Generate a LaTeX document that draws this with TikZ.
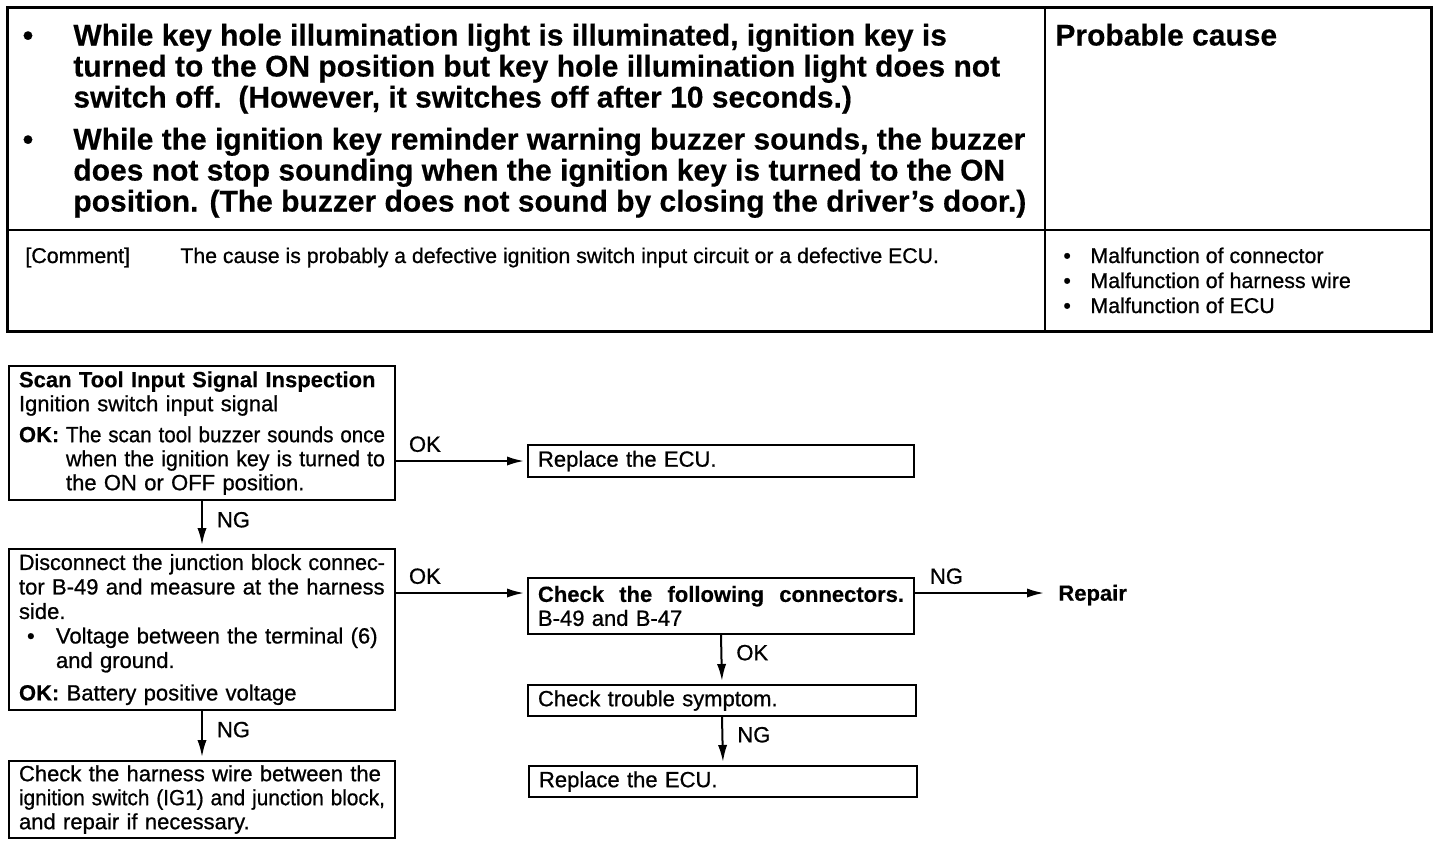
\documentclass[tikz,border=0pt]{standalone}
\usepackage{fontspec}
\usepackage{graphicx}
\setmainfont{Liberation Sans}[UprightFeatures={FakeBold=0.8}, BoldFeatures={FakeBold=0.4}]
\usetikzlibrary{arrows.meta}
\newlength{\okw}
\setlength{\okw}{23.5pt}
\newlength{\blw}
\setlength{\blw}{18.5pt}
\newlength{\fitw}
\newsavebox{\fitbox}
\newcommand{\fitto}[2]{\setlength{\fitw}{#1}\sbox{\fitbox}{#2}%
    \ifdim\wd\fitbox>\fitw\resizebox{\fitw}{\height}{\usebox{\fitbox}}\else\makebox[\fitw][s]{#2}\fi}
\newcommand{\fl}[1]{\fitto{\linewidth}{#1}}
\newcommand{\fli}[2]{\hspace*{#1}\fitto{\dimexpr\linewidth-#1\relax}{#2}}
\begin{document}
\begin{tikzpicture}[x=0.5pt, y=-0.5pt,
    box/.style={draw, line width=1pt, anchor=north west, inner xsep=5pt, inner ysep=0pt,
        text width=183pt, align=left, font=\fontsize{11}{12}\selectfont},
    flow/.style={-{Latex[length=8.5pt,width=4.6pt]}, line width=1pt, shorten >=1.5pt},
    lbl/.style={font=\fontsize{11}{12}\selectfont, inner sep=1pt},
    head/.style={anchor=base west, inner sep=0pt, align=left, font=\fontsize{15}{15.5}\selectfont\bfseries},
    small/.style={anchor=base west, inner sep=0pt, align=left, font=\fontsize{10.7}{12.5}\selectfont}]
    \path[use as bounding box, fill=white] (0,0) rectangle (1440,848);

    \draw[line width=1.5pt] (7,7) rectangle (1431,331);
    \draw[line width=1pt] (7,230) -- (1431,230) (1045,7) -- (1045,331);

    \node[head, anchor=base] (bul1) at (28,45.5) {\textbullet};
    \node[head] (sym1) at (73,107.5) {While key hole illumination light is illuminated, ignition key is\\
        turned to the ON position but key hole illumination light does not\\
        switch off.\ \ (However, it switches off after 10 seconds.)};
    \node[head, anchor=base] (bul2) at (28,149.5) {\textbullet};
    \node[head] (sym2) at (73,211.5) {While the ignition key reminder warning buzzer sounds, the buzzer\\
        does not stop sounding when the ignition key is turned to the ON\\
        position. (The buzzer does not sound by closing the driver’s door.)};
    \node[head] (prob) at (1055,45.5) {Probable cause};

    \node[small] (cmt) at (25,263) {[Comment]};
    \node[small, font=\fontsize{10.63}{12.5}\selectfont] (cause) at (180,263) {The cause is probably a defective ignition switch input circuit or a defective ECU.};
    \node[small] (causes) at (1063,313) {\makebox[13.5pt][l]{\textbullet}Malfunction of connector\\
        \makebox[13.5pt][l]{\textbullet}Malfunction of harness wire\\
        \makebox[13.5pt][l]{\textbullet}Malfunction of ECU};

    \node[box, minimum height=67pt] (scan) at (8,365) {\textbf{Scan Tool Input Signal Inspection}\\
        Ignition switch input signal\\[3.5pt]
        \makebox[\okw][l]{\textbf{OK:}}\fitto{\dimexpr\linewidth-\okw\relax}{The scan tool buzzer sounds once}\\
        \fli{\okw}{when the ignition key is turned to}\\
        \hspace*{\okw}the ON or OFF position.};
    \node[box, minimum height=16pt] (ecu1) at (527,444) {Replace the ECU.};
    \node[box, minimum height=80.5pt, font=\fontsize{11}{12.25}\selectfont] (meas) at (8,548) {\fl{Disconnect the junction block connec-}\\
        \fl{tor B-49 and measure at the harness}\\
        side.\\
        \makebox[\blw][l]{\hspace*{4pt}\textbullet}\fitto{\dimexpr\linewidth-\blw\relax}{Voltage between the terminal (6)}\\
        \hspace*{\blw}and ground.\\[4pt]
        \textbf{OK:} Battery positive voltage};
    \node[box, minimum height=28pt] (conn) at (527,577) {\makebox[\linewidth][s]{\textbf{Check}\hfill\textbf{the}\hfill\textbf{following}\hfill\textbf{connectors.}}\\
        B-49 and B-47};
    \node[font=\fontsize{11}{12}\selectfont\bfseries, anchor=west, inner sep=0pt] (repair) at (1058,595) {Repair};
    \node[box, minimum height=15.5pt, text width=184pt] (symp) at (527,684) {Check trouble symptom.};
    \node[box, minimum height=15.5pt, text width=184pt] (ecu2) at (528,765) {Replace the ECU.};
    \node[box, minimum height=38.5pt] (wire) at (8,760) {\fl{Check the harness wire between the}\\
        \fl{ignition switch (IG1) and junction block,}\\
        and repair if necessary.};

    \coordinate (cin) at ([yshift=-8pt]conn.north west);

    \draw[flow] (scan.east |- ecu1.west) -- (ecu1.west) node[lbl, pos=0, anchor=south west, xshift=5pt, yshift=3pt] {OK};
    \draw[flow] (scan.south) -- (meas.north) node[lbl, pos=0.4, anchor=west, xshift=6pt] {NG};
    \draw[flow] (meas.east |- cin) -- (cin) node[lbl, pos=0, anchor=south west, xshift=5pt, yshift=3pt] {OK};
    \draw[flow, shorten >=7pt] (cin -| conn.east) -- (cin -| repair.west) node[lbl, pos=0, anchor=south west, xshift=6pt, yshift=3pt] {NG};
    \draw[flow] (conn.south) -- (symp.north) node[lbl, pos=0.36, anchor=west, xshift=6pt] {OK};
    \draw[flow] (symp.south) -- (ecu2.north) node[lbl, pos=0.37, anchor=west, xshift=6pt] {NG};
    \draw[flow] (meas.south) -- (wire.north) node[lbl, pos=0.38, anchor=west, xshift=6pt] {NG};
\end{tikzpicture}
\end{document}
